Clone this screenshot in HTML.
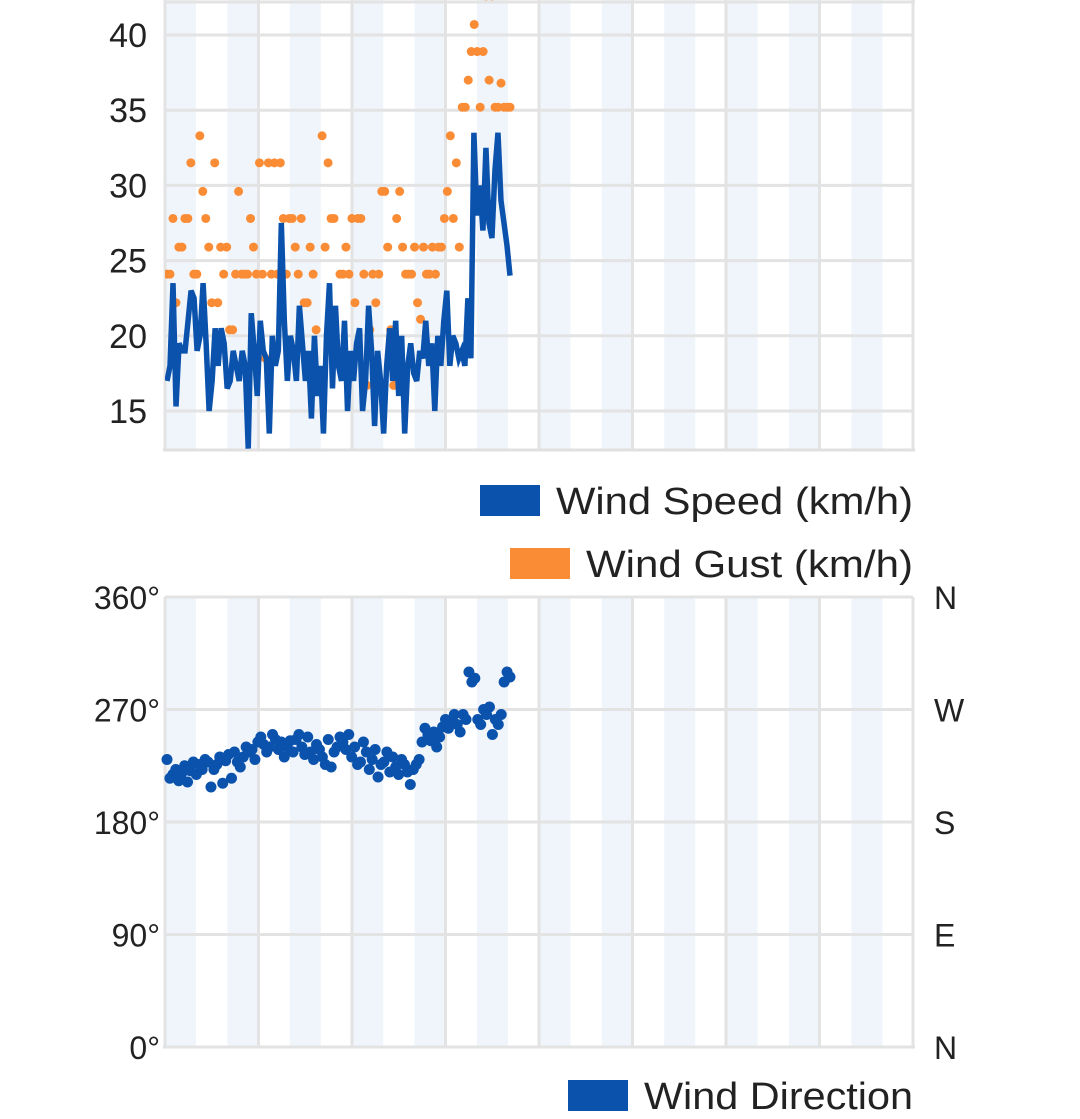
<!DOCTYPE html>
<html><head><meta charset="utf-8"><style>
body{margin:0;background:#fff;width:1080px;height:1119px;overflow:hidden;font-family:"Liberation Sans",sans-serif;}
svg{display:block}
</style></head><body>
<svg id="chart" width="1080" height="1119" xmlns="http://www.w3.org/2000/svg"></svg>
<script>
const speed=[17,18,23.5,15.3,19.5,19,19,21,23,22.5,19,20,23.5,19.5,15,17,20.5,18,20.5,19.5,16.5,17,19,18,17,19,18,12.5,21.5,19,16,21,19,18.5,13.5,20,18,19,27.5,21,17,20,19,17,22,19.5,17,19,14.5,20,16,18,13.5,20,23.5,16.5,22,18,17,21,15,19,17,19.5,20.5,15,17,22,19,14,19,17,13.5,18,20.5,17,21,16,20,13.5,18,19.5,17.5,17,19,18.5,21,18,19.5,15,20,18,21,23,18,20,19.5,18.5,19,18,22.5,18.5,33.5,28,30,27,32.5,27.5,26.5,31,33.5,29,27.5,26,24];
const gust=[24.1,24.1,27.8,22.2,25.9,25.9,27.8,27.8,31.5,24.1,24.1,33.3,29.6,27.8,25.9,22.2,31.5,22.2,25.9,24.1,25.9,20.4,20.4,24.1,29.6,24.1,24.1,24.1,27.8,25.9,24.1,31.5,24.1,18.5,31.5,24.1,31.5,24.1,31.5,27.8,24.1,27.8,27.8,25.9,24.1,27.8,22.2,22.2,25.9,24.1,20.4,16.7,33.3,25.9,31.5,27.8,27.8,18.5,24.1,24.1,25.9,24.1,27.8,22.2,27.8,27.8,24.1,16.7,20.4,24.1,22.2,24.1,29.6,29.6,25.9,20.4,16.7,27.8,29.6,25.9,24.1,24.1,24.1,25.9,22.2,21.1,25.9,24.1,24.1,25.9,24.1,25.9,25.9,27.8,29.6,33.3,27.8,31.5,25.9,35.2,35.2,37,38.9,40.7,38.9,35.2,38.9,42.6,37,42.6,35.2,35.2,36.8,35.2,35.2,35.2];
const dir=[230,215,218,222,213,219,225,212,221,228,218,226,222,230,228,208,222,226,232,211,229,234,215,236,228,224,232,240,236,238,230,244,248,242,236,240,250,246,238,244,232,240,245,236,246,250,240,234,248,236,230,242,238,232,226,246,224,236,240,248,244,238,250,232,240,226,228,244,236,222,230,238,216,226,228,236,220,232,224,218,230,226,220,210,222,226,230,244,255,250,245,252,240,248,256,262,255,260,266,258,252,266,262,300,292,295,262,258,270,266,272,250,262,258,266,292,300,296];
const speedTicks=[15,20,25,30,35,40];
const dirTicks=[0,90,180,270,360];
const dirLabels=["N","E","S","W","N"];
const NS="http://www.w3.org/2000/svg";
const svg=document.getElementById('chart');
function mk(t,a,p){const e=document.createElementNS(NS,t);for(const k in a)e.setAttribute(k,a[k]);(p||svg).appendChild(e);return e;}
const xs=(i,n)=>167+i*(343/(n-1));
const ys=v=>411-(v-15)*15.04;
const yd=v=>1047-v*1.25;
function frame(top,bot,name){
  const g=mk('g',{});
  
  
  for(let k=0;k<12;k++){const bx=165+k*62.4;
    const r=mk('rect',{x:bx,y:top,width:31,height:bot-top,fill:'#eff5fb'},g);
    
    }
  for(let k=0;k<=8;k++){const gx=165+k*93.5;
    mk('line',{x1:gx,x2:gx,y1:top,y2:bot,stroke:'#e3e3e3','stroke-width':3},g);}
  mk('line',{x1:163,x2:915,y1:bot,y2:bot,stroke:'#e0e0e0','stroke-width':3},g);
  return g;
}
const g1=frame(0,450,'speed-plot-area');
mk('line',{x1:165,x2:915,y1:2,y2:2,stroke:'#e3e3e3','stroke-width':3},g1);
speedTicks.forEach(t=>{
  mk('line',{x1:165,x2:913,y1:ys(t),y2:ys(t),stroke:'#e3e3e3','stroke-width':3});
  const tx=mk('text',{x:147,y:ys(t)+12,'text-anchor':'end','font-size':34,fill:'#222'});
  tx.textContent=t;
  
  
});
const cp=mk('clipPath',{id:'c1'});mk('rect',{x:165,y:0,width:750,height:450},cp);
const gd=mk('g',{'clip-path':'url(#c1)'});
gust.forEach((v,i)=>{
  const c=mk('circle',{cx:xs(i,gust.length),cy:ys(v),r:4.5,fill:'#fb8c36'},gd);
  
  
});
const ln=mk('polyline',{points:speed.map((v,i)=>xs(i,speed.length)+','+ys(v)).join(' '),fill:'none',stroke:'#0a52ac','stroke-width':5.5,'stroke-linejoin':'miter'},gd);


function leg(x,y,color,label,name){
  const g=mk('g',{});
  
  
  mk('rect',{x:x,y:y,width:60,height:31,fill:color},g);
  const t=mk('text',{x:x+76,y:y+29,'font-size':38,fill:'#222',textLength:913-(x+76),lengthAdjust:'spacingAndGlyphs'},g);t.textContent=label;
}
leg(480,485,'#0a52ac','Wind Speed (km/h)','legend-wind-speed');
leg(510,548,'#fb8c36','Wind Gust (km/h)','legend-wind-gust');
const g2=frame(597,1047,'direction-plot-area');
dirTicks.forEach((t,i)=>{
  mk('line',{x1:165,x2:913,y1:yd(t),y2:yd(t),stroke:'#e3e3e3','stroke-width':3});
  const tx=mk('text',{x:160,y:yd(t)+12,'text-anchor':'end','font-size':32,fill:'#222'});
  tx.textContent=t+'°';
  
  
  const tr=mk('text',{x:934,y:yd(t)+12,'font-size':32,fill:'#222'});
  tr.textContent=dirLabels[i];
  
  
});
dir.forEach((v,i)=>{
  const c=mk('circle',{cx:xs(i,dir.length),cy:yd(v),r:5.5,fill:'#0a52ac'});
  
  
});
leg(568,1080,'#0a52ac','Wind Direction','legend-wind-direction');
</script>
</body></html>
